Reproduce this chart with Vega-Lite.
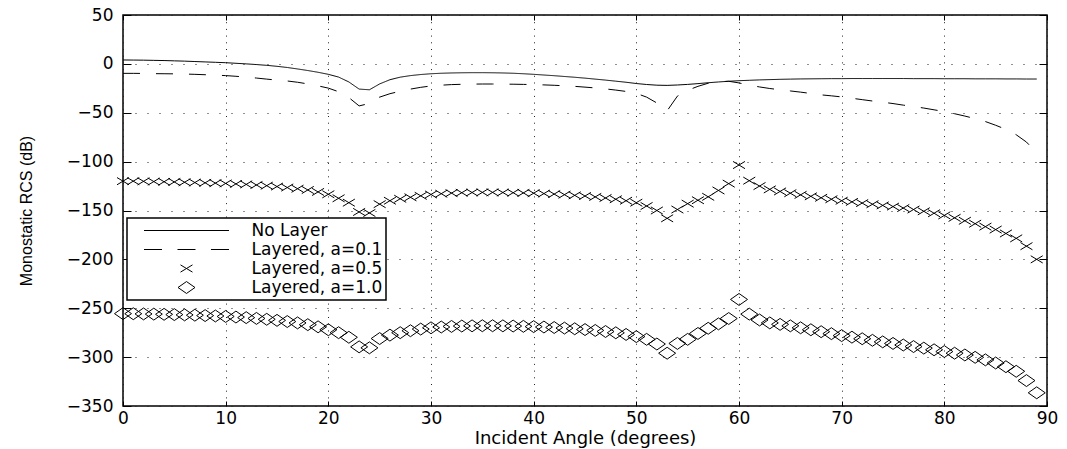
{
"$schema": "https://vega.github.io/schema/vega-lite/v6.json",
"width": 924, "height": 391,
"autosize": "none",
"padding": {"left": 123, "top": 15, "right": 20, "bottom": 43},
"background": "white",
"config": {
  "view": {"stroke": "black", "strokeWidth": 1.5},
  "axis": {"labelFont": "DejaVu Sans", "labelFontSize": 17, "labelColor": "black", "titleFont": "DejaVu Sans", "titleColor": "black", "titleFontWeight": "normal", "domain": false, "tickColor": "black", "tickWidth": 1, "gridColor": "#222222", "gridOpacity": 1, "gridWidth": 1, "labelFlush": false},
  "legend": {"orient": "none", "legendX": 4, "legendY": 203, "strokeColor": "black", "strokeWidth": 1.5, "fillColor": "white", "padding": 3, "clipHeight": 19, "rowPadding": 0, "symbolOffset": 13.5, "labelOffset": 22, "labelFont": "DejaVu Sans", "labelFontSize": 17, "labelColor": "black", "symbolStrokeColor": "black", "symbolStrokeWidth": 1, "symbolFillColor": "transparent", "symbolSize": 7225, "symbolOpacity": 1, "labelLimit": 400}
},
"data": {"values": [
{"a":0,"s":"No Layer","v":4.0},{"a":1,"s":"No Layer","v":3.9},{"a":2,"s":"No Layer","v":3.8},{"a":3,"s":"No Layer","v":3.6},{"a":4,"s":"No Layer","v":3.4},{"a":5,"s":"No Layer","v":3.1},{"a":6,"s":"No Layer","v":2.8},{"a":7,"s":"No Layer","v":2.4},{"a":8,"s":"No Layer","v":2.0},{"a":9,"s":"No Layer","v":1.6},
{"a":10,"s":"No Layer","v":1.2},{"a":11,"s":"No Layer","v":0.6},{"a":12,"s":"No Layer","v":0.0},{"a":13,"s":"No Layer","v":-0.7},{"a":14,"s":"No Layer","v":-1.5},{"a":15,"s":"No Layer","v":-2.5},{"a":16,"s":"No Layer","v":-3.7},{"a":17,"s":"No Layer","v":-5.2},{"a":18,"s":"No Layer","v":-6.8},{"a":19,"s":"No Layer","v":-8.6},
{"a":20,"s":"No Layer","v":-10.7},{"a":21,"s":"No Layer","v":-13.5},{"a":22,"s":"No Layer","v":-18.5},{"a":23,"s":"No Layer","v":-25.8},{"a":24,"s":"No Layer","v":-26.5},{"a":25,"s":"No Layer","v":-20.5},{"a":26,"s":"No Layer","v":-16.2},{"a":27,"s":"No Layer","v":-13.6},{"a":28,"s":"No Layer","v":-12.0},{"a":29,"s":"No Layer","v":-10.9},
{"a":30,"s":"No Layer","v":-10.1},{"a":31,"s":"No Layer","v":-9.6},{"a":32,"s":"No Layer","v":-9.3},{"a":33,"s":"No Layer","v":-9.1},{"a":34,"s":"No Layer","v":-9.0},{"a":35,"s":"No Layer","v":-9.0},{"a":36,"s":"No Layer","v":-9.1},{"a":37,"s":"No Layer","v":-9.3},{"a":38,"s":"No Layer","v":-9.6},{"a":39,"s":"No Layer","v":-10.1},
{"a":40,"s":"No Layer","v":-10.7},{"a":41,"s":"No Layer","v":-11.4},{"a":42,"s":"No Layer","v":-12.1},{"a":43,"s":"No Layer","v":-12.9},{"a":44,"s":"No Layer","v":-13.7},{"a":45,"s":"No Layer","v":-14.6},{"a":46,"s":"No Layer","v":-15.6},{"a":47,"s":"No Layer","v":-16.6},{"a":48,"s":"No Layer","v":-17.7},{"a":49,"s":"No Layer","v":-18.8},
{"a":50,"s":"No Layer","v":-20.1},{"a":51,"s":"No Layer","v":-21.1},{"a":52,"s":"No Layer","v":-21.8},{"a":53,"s":"No Layer","v":-22.0},{"a":54,"s":"No Layer","v":-21.6},{"a":55,"s":"No Layer","v":-21.0},{"a":56,"s":"No Layer","v":-20.2},{"a":57,"s":"No Layer","v":-19.3},{"a":58,"s":"No Layer","v":-18.5},{"a":59,"s":"No Layer","v":-17.8},
{"a":60,"s":"No Layer","v":-17.2},{"a":61,"s":"No Layer","v":-16.8},{"a":62,"s":"No Layer","v":-16.4},{"a":63,"s":"No Layer","v":-16.1},{"a":64,"s":"No Layer","v":-15.8},{"a":65,"s":"No Layer","v":-15.6},{"a":66,"s":"No Layer","v":-15.4},{"a":67,"s":"No Layer","v":-15.3},{"a":68,"s":"No Layer","v":-15.2},{"a":69,"s":"No Layer","v":-15.1},
{"a":70,"s":"No Layer","v":-15.1},{"a":71,"s":"No Layer","v":-15.0},{"a":72,"s":"No Layer","v":-15.0},{"a":73,"s":"No Layer","v":-15.0},{"a":74,"s":"No Layer","v":-15.0},{"a":75,"s":"No Layer","v":-15.0},{"a":76,"s":"No Layer","v":-15.0},{"a":77,"s":"No Layer","v":-15.1},{"a":78,"s":"No Layer","v":-15.1},{"a":79,"s":"No Layer","v":-15.1},
{"a":80,"s":"No Layer","v":-15.2},{"a":81,"s":"No Layer","v":-15.2},{"a":82,"s":"No Layer","v":-15.2},{"a":83,"s":"No Layer","v":-15.3},{"a":84,"s":"No Layer","v":-15.3},{"a":85,"s":"No Layer","v":-15.3},{"a":86,"s":"No Layer","v":-15.4},{"a":87,"s":"No Layer","v":-15.4},{"a":88,"s":"No Layer","v":-15.5},{"a":89,"s":"No Layer","v":-15.5},
{"a":0,"s":"Layered, a=0.1","v":-9.7},{"a":1,"s":"Layered, a=0.1","v":-9.7},{"a":2,"s":"Layered, a=0.1","v":-9.8},{"a":3,"s":"Layered, a=0.1","v":-10.0},{"a":4,"s":"Layered, a=0.1","v":-10.1},{"a":5,"s":"Layered, a=0.1","v":-10.2},{"a":6,"s":"Layered, a=0.1","v":-10.4},{"a":7,"s":"Layered, a=0.1","v":-10.7},{"a":8,"s":"Layered, a=0.1","v":-11.1},{"a":9,"s":"Layered, a=0.1","v":-11.5},
{"a":10,"s":"Layered, a=0.1","v":-12.0},{"a":11,"s":"Layered, a=0.1","v":-12.7},{"a":12,"s":"Layered, a=0.1","v":-13.5},{"a":13,"s":"Layered, a=0.1","v":-14.5},{"a":14,"s":"Layered, a=0.1","v":-15.6},{"a":15,"s":"Layered, a=0.1","v":-16.6},{"a":16,"s":"Layered, a=0.1","v":-17.5},{"a":17,"s":"Layered, a=0.1","v":-18.8},{"a":18,"s":"Layered, a=0.1","v":-20.5},{"a":19,"s":"Layered, a=0.1","v":-22.5},
{"a":20,"s":"Layered, a=0.1","v":-24.8},{"a":21,"s":"Layered, a=0.1","v":-28.5},{"a":22,"s":"Layered, a=0.1","v":-34.5},{"a":23,"s":"Layered, a=0.1","v":-43.0},{"a":24,"s":"Layered, a=0.1","v":-40.5},{"a":25,"s":"Layered, a=0.1","v":-34.0},{"a":26,"s":"Layered, a=0.1","v":-30.5},{"a":27,"s":"Layered, a=0.1","v":-28.0},{"a":28,"s":"Layered, a=0.1","v":-25.8},{"a":29,"s":"Layered, a=0.1","v":-24.0},
{"a":30,"s":"Layered, a=0.1","v":-22.6},{"a":31,"s":"Layered, a=0.1","v":-21.8},{"a":32,"s":"Layered, a=0.1","v":-21.2},{"a":33,"s":"Layered, a=0.1","v":-20.9},{"a":34,"s":"Layered, a=0.1","v":-20.7},{"a":35,"s":"Layered, a=0.1","v":-20.6},{"a":36,"s":"Layered, a=0.1","v":-20.6},{"a":37,"s":"Layered, a=0.1","v":-20.7},{"a":38,"s":"Layered, a=0.1","v":-20.8},{"a":39,"s":"Layered, a=0.1","v":-21.0},
{"a":40,"s":"Layered, a=0.1","v":-21.2},{"a":41,"s":"Layered, a=0.1","v":-21.5},{"a":42,"s":"Layered, a=0.1","v":-21.9},{"a":43,"s":"Layered, a=0.1","v":-22.4},{"a":44,"s":"Layered, a=0.1","v":-23.0},{"a":45,"s":"Layered, a=0.1","v":-23.8},{"a":46,"s":"Layered, a=0.1","v":-24.6},{"a":47,"s":"Layered, a=0.1","v":-25.6},{"a":48,"s":"Layered, a=0.1","v":-26.8},{"a":49,"s":"Layered, a=0.1","v":-28.2},
{"a":50,"s":"Layered, a=0.1","v":-30.2},{"a":51,"s":"Layered, a=0.1","v":-34.0},{"a":52,"s":"Layered, a=0.1","v":-40.0},{"a":53,"s":"Layered, a=0.1","v":-48.0},{"a":54,"s":"Layered, a=0.1","v":-33.0},{"a":55,"s":"Layered, a=0.1","v":-27.0},{"a":56,"s":"Layered, a=0.1","v":-23.0},{"a":57,"s":"Layered, a=0.1","v":-19.8},{"a":58,"s":"Layered, a=0.1","v":-18.3},{"a":59,"s":"Layered, a=0.1","v":-17.8},
{"a":60,"s":"Layered, a=0.1","v":-19.5},{"a":61,"s":"Layered, a=0.1","v":-21.8},{"a":62,"s":"Layered, a=0.1","v":-23.6},{"a":63,"s":"Layered, a=0.1","v":-25.2},{"a":64,"s":"Layered, a=0.1","v":-26.5},{"a":65,"s":"Layered, a=0.1","v":-27.7},{"a":66,"s":"Layered, a=0.1","v":-28.9},{"a":67,"s":"Layered, a=0.1","v":-30.3},{"a":68,"s":"Layered, a=0.1","v":-31.7},{"a":69,"s":"Layered, a=0.1","v":-32.7},
{"a":70,"s":"Layered, a=0.1","v":-33.8},{"a":71,"s":"Layered, a=0.1","v":-35.2},{"a":72,"s":"Layered, a=0.1","v":-36.6},{"a":73,"s":"Layered, a=0.1","v":-38.0},{"a":74,"s":"Layered, a=0.1","v":-39.2},{"a":75,"s":"Layered, a=0.1","v":-40.6},{"a":76,"s":"Layered, a=0.1","v":-42.2},{"a":77,"s":"Layered, a=0.1","v":-43.6},{"a":78,"s":"Layered, a=0.1","v":-45.2},{"a":79,"s":"Layered, a=0.1","v":-47.0},
{"a":80,"s":"Layered, a=0.1","v":-48.8},{"a":81,"s":"Layered, a=0.1","v":-51.0},{"a":82,"s":"Layered, a=0.1","v":-53.4},{"a":83,"s":"Layered, a=0.1","v":-56.0},{"a":84,"s":"Layered, a=0.1","v":-59.0},{"a":85,"s":"Layered, a=0.1","v":-62.8},{"a":86,"s":"Layered, a=0.1","v":-67.0},{"a":87,"s":"Layered, a=0.1","v":-72.5},{"a":88,"s":"Layered, a=0.1","v":-80.0},{"a":89,"s":"Layered, a=0.1","v":-91.0},
{"a":0,"s":"Layered, a=0.5","v":-120.0},{"a":1,"s":"Layered, a=0.5","v":-120.0},{"a":2,"s":"Layered, a=0.5","v":-120.2},{"a":3,"s":"Layered, a=0.5","v":-120.4},{"a":4,"s":"Layered, a=0.5","v":-120.6},{"a":5,"s":"Layered, a=0.5","v":-120.8},{"a":6,"s":"Layered, a=0.5","v":-121.1},{"a":7,"s":"Layered, a=0.5","v":-121.4},{"a":8,"s":"Layered, a=0.5","v":-121.7},{"a":9,"s":"Layered, a=0.5","v":-122.0},
{"a":10,"s":"Layered, a=0.5","v":-122.3},{"a":11,"s":"Layered, a=0.5","v":-122.8},{"a":12,"s":"Layered, a=0.5","v":-123.3},{"a":13,"s":"Layered, a=0.5","v":-123.9},{"a":14,"s":"Layered, a=0.5","v":-124.6},{"a":15,"s":"Layered, a=0.5","v":-125.5},{"a":16,"s":"Layered, a=0.5","v":-126.5},{"a":17,"s":"Layered, a=0.5","v":-127.7},{"a":18,"s":"Layered, a=0.5","v":-129.0},{"a":19,"s":"Layered, a=0.5","v":-131.0},
{"a":20,"s":"Layered, a=0.5","v":-133.4},{"a":21,"s":"Layered, a=0.5","v":-137.5},{"a":22,"s":"Layered, a=0.5","v":-142.0},{"a":23,"s":"Layered, a=0.5","v":-151.5},{"a":24,"s":"Layered, a=0.5","v":-152.5},{"a":25,"s":"Layered, a=0.5","v":-143.5},{"a":26,"s":"Layered, a=0.5","v":-140.0},{"a":27,"s":"Layered, a=0.5","v":-138.0},{"a":28,"s":"Layered, a=0.5","v":-136.5},{"a":29,"s":"Layered, a=0.5","v":-135.0},
{"a":30,"s":"Layered, a=0.5","v":-133.6},{"a":31,"s":"Layered, a=0.5","v":-132.8},{"a":32,"s":"Layered, a=0.5","v":-132.2},{"a":33,"s":"Layered, a=0.5","v":-131.8},{"a":34,"s":"Layered, a=0.5","v":-131.6},{"a":35,"s":"Layered, a=0.5","v":-131.5},{"a":36,"s":"Layered, a=0.5","v":-131.5},{"a":37,"s":"Layered, a=0.5","v":-131.6},{"a":38,"s":"Layered, a=0.5","v":-131.8},{"a":39,"s":"Layered, a=0.5","v":-132.0},
{"a":40,"s":"Layered, a=0.5","v":-132.3},{"a":41,"s":"Layered, a=0.5","v":-132.7},{"a":42,"s":"Layered, a=0.5","v":-133.2},{"a":43,"s":"Layered, a=0.5","v":-133.8},{"a":44,"s":"Layered, a=0.5","v":-134.5},{"a":45,"s":"Layered, a=0.5","v":-135.2},{"a":46,"s":"Layered, a=0.5","v":-136.1},{"a":47,"s":"Layered, a=0.5","v":-137.2},{"a":48,"s":"Layered, a=0.5","v":-138.5},{"a":49,"s":"Layered, a=0.5","v":-140.0},
{"a":50,"s":"Layered, a=0.5","v":-142.0},{"a":51,"s":"Layered, a=0.5","v":-145.4},{"a":52,"s":"Layered, a=0.5","v":-150.0},{"a":53,"s":"Layered, a=0.5","v":-158.0},{"a":54,"s":"Layered, a=0.5","v":-149.0},{"a":55,"s":"Layered, a=0.5","v":-143.0},{"a":56,"s":"Layered, a=0.5","v":-139.5},{"a":57,"s":"Layered, a=0.5","v":-136.0},{"a":58,"s":"Layered, a=0.5","v":-129.5},{"a":59,"s":"Layered, a=0.5","v":-122.5},
{"a":60,"s":"Layered, a=0.5","v":-103.5},{"a":61,"s":"Layered, a=0.5","v":-119.5},{"a":62,"s":"Layered, a=0.5","v":-125.0},{"a":63,"s":"Layered, a=0.5","v":-128.4},{"a":64,"s":"Layered, a=0.5","v":-130.5},{"a":65,"s":"Layered, a=0.5","v":-132.3},{"a":66,"s":"Layered, a=0.5","v":-134.0},{"a":67,"s":"Layered, a=0.5","v":-135.5},{"a":68,"s":"Layered, a=0.5","v":-137.0},{"a":69,"s":"Layered, a=0.5","v":-138.5},
{"a":70,"s":"Layered, a=0.5","v":-140.0},{"a":71,"s":"Layered, a=0.5","v":-141.2},{"a":72,"s":"Layered, a=0.5","v":-142.4},{"a":73,"s":"Layered, a=0.5","v":-143.6},{"a":74,"s":"Layered, a=0.5","v":-144.8},{"a":75,"s":"Layered, a=0.5","v":-146.0},{"a":76,"s":"Layered, a=0.5","v":-147.5},{"a":77,"s":"Layered, a=0.5","v":-149.0},{"a":78,"s":"Layered, a=0.5","v":-150.8},{"a":79,"s":"Layered, a=0.5","v":-152.8},
{"a":80,"s":"Layered, a=0.5","v":-155.0},{"a":81,"s":"Layered, a=0.5","v":-157.5},{"a":82,"s":"Layered, a=0.5","v":-160.5},{"a":83,"s":"Layered, a=0.5","v":-163.5},{"a":84,"s":"Layered, a=0.5","v":-166.5},{"a":85,"s":"Layered, a=0.5","v":-169.5},{"a":86,"s":"Layered, a=0.5","v":-173.5},{"a":87,"s":"Layered, a=0.5","v":-178.5},{"a":88,"s":"Layered, a=0.5","v":-186.5},{"a":89,"s":"Layered, a=0.5","v":-200.0},
{"a":0,"s":"Layered, a=1.0","v":-255.5},{"a":1,"s":"Layered, a=1.0","v":-255.6},{"a":2,"s":"Layered, a=1.0","v":-255.8},{"a":3,"s":"Layered, a=1.0","v":-256.0},{"a":4,"s":"Layered, a=1.0","v":-256.2},{"a":5,"s":"Layered, a=1.0","v":-256.5},{"a":6,"s":"Layered, a=1.0","v":-256.8},{"a":7,"s":"Layered, a=1.0","v":-257.1},{"a":8,"s":"Layered, a=1.0","v":-257.5},{"a":9,"s":"Layered, a=1.0","v":-257.9},
{"a":10,"s":"Layered, a=1.0","v":-258.4},{"a":11,"s":"Layered, a=1.0","v":-259.0},{"a":12,"s":"Layered, a=1.0","v":-259.6},{"a":13,"s":"Layered, a=1.0","v":-260.4},{"a":14,"s":"Layered, a=1.0","v":-261.3},{"a":15,"s":"Layered, a=1.0","v":-262.4},{"a":16,"s":"Layered, a=1.0","v":-263.6},{"a":17,"s":"Layered, a=1.0","v":-265.0},{"a":18,"s":"Layered, a=1.0","v":-266.8},{"a":19,"s":"Layered, a=1.0","v":-269.0},
{"a":20,"s":"Layered, a=1.0","v":-272.0},{"a":21,"s":"Layered, a=1.0","v":-275.0},{"a":22,"s":"Layered, a=1.0","v":-279.7},{"a":23,"s":"Layered, a=1.0","v":-289.5},{"a":24,"s":"Layered, a=1.0","v":-290.5},{"a":25,"s":"Layered, a=1.0","v":-281.0},{"a":26,"s":"Layered, a=1.0","v":-277.5},{"a":27,"s":"Layered, a=1.0","v":-275.0},{"a":28,"s":"Layered, a=1.0","v":-273.0},{"a":29,"s":"Layered, a=1.0","v":-271.3},
{"a":30,"s":"Layered, a=1.0","v":-270.0},{"a":31,"s":"Layered, a=1.0","v":-269.2},{"a":32,"s":"Layered, a=1.0","v":-268.6},{"a":33,"s":"Layered, a=1.0","v":-268.2},{"a":34,"s":"Layered, a=1.0","v":-268.0},{"a":35,"s":"Layered, a=1.0","v":-267.9},{"a":36,"s":"Layered, a=1.0","v":-267.9},{"a":37,"s":"Layered, a=1.0","v":-268.0},{"a":38,"s":"Layered, a=1.0","v":-268.2},{"a":39,"s":"Layered, a=1.0","v":-268.5},
{"a":40,"s":"Layered, a=1.0","v":-268.8},{"a":41,"s":"Layered, a=1.0","v":-269.2},{"a":42,"s":"Layered, a=1.0","v":-269.7},{"a":43,"s":"Layered, a=1.0","v":-270.3},{"a":44,"s":"Layered, a=1.0","v":-271.0},{"a":45,"s":"Layered, a=1.0","v":-271.8},{"a":46,"s":"Layered, a=1.0","v":-272.7},{"a":47,"s":"Layered, a=1.0","v":-273.8},{"a":48,"s":"Layered, a=1.0","v":-275.1},{"a":49,"s":"Layered, a=1.0","v":-276.8},
{"a":50,"s":"Layered, a=1.0","v":-279.0},{"a":51,"s":"Layered, a=1.0","v":-281.8},{"a":52,"s":"Layered, a=1.0","v":-286.6},{"a":53,"s":"Layered, a=1.0","v":-296.0},{"a":54,"s":"Layered, a=1.0","v":-286.0},{"a":55,"s":"Layered, a=1.0","v":-281.8},{"a":56,"s":"Layered, a=1.0","v":-275.8},{"a":57,"s":"Layered, a=1.0","v":-270.5},{"a":58,"s":"Layered, a=1.0","v":-266.0},{"a":59,"s":"Layered, a=1.0","v":-260.5},
{"a":60,"s":"Layered, a=1.0","v":-241.0},{"a":61,"s":"Layered, a=1.0","v":-256.0},{"a":62,"s":"Layered, a=1.0","v":-262.0},{"a":63,"s":"Layered, a=1.0","v":-265.0},{"a":64,"s":"Layered, a=1.0","v":-266.5},{"a":65,"s":"Layered, a=1.0","v":-268.0},{"a":66,"s":"Layered, a=1.0","v":-270.0},{"a":67,"s":"Layered, a=1.0","v":-272.0},{"a":68,"s":"Layered, a=1.0","v":-274.0},{"a":69,"s":"Layered, a=1.0","v":-276.0},
{"a":70,"s":"Layered, a=1.0","v":-278.0},{"a":71,"s":"Layered, a=1.0","v":-279.6},{"a":72,"s":"Layered, a=1.0","v":-281.2},{"a":73,"s":"Layered, a=1.0","v":-282.8},{"a":74,"s":"Layered, a=1.0","v":-284.4},{"a":75,"s":"Layered, a=1.0","v":-286.0},{"a":76,"s":"Layered, a=1.0","v":-287.6},{"a":77,"s":"Layered, a=1.0","v":-289.2},{"a":78,"s":"Layered, a=1.0","v":-290.8},{"a":79,"s":"Layered, a=1.0","v":-292.5},
{"a":80,"s":"Layered, a=1.0","v":-294.3},{"a":81,"s":"Layered, a=1.0","v":-296.0},{"a":82,"s":"Layered, a=1.0","v":-297.8},{"a":83,"s":"Layered, a=1.0","v":-300.2},{"a":84,"s":"Layered, a=1.0","v":-302.8},{"a":85,"s":"Layered, a=1.0","v":-306.0},{"a":86,"s":"Layered, a=1.0","v":-309.8},{"a":87,"s":"Layered, a=1.0","v":-314.5},{"a":88,"s":"Layered, a=1.0","v":-324.0},{"a":89,"s":"Layered, a=1.0","v":-336.5}
]},
"layer": [
  {
    "transform": [{"filter": {"field": "s", "oneOf": ["No Layer", "Layered, a=0.1"]}}],
    "mark": {"type": "line", "color": "black", "strokeWidth": 1},
    "encoding": {
      "x": {"field": "a", "type": "quantitative", "scale": {"domain": [0, 90], "nice": false, "zero": false},
            "axis": {"orient": "bottom", "values": [0,10,20,30,40,50,60,70,80,90], "title": "Incident Angle (degrees)", "titleFontSize": 18, "titlePadding": 3, "grid": true, "gridDash": [1, 5.7], "tickSize": -5, "labelPadding": 9}},
      "y": {"field": "v", "type": "quantitative", "scale": {"domain": [-350, 50], "nice": false, "zero": false},
            "axis": {"orient": "left", "values": [-350,-300,-250,-200,-150,-100,-50,0,50], "title": "Monostatic RCS (dB)", "titleFont": "Liberation Sans", "titleFontSize": 16, "titlePadding": 32, "grid": true, "gridDash": [1, 11], "tickSize": -8, "labelPadding": 18}},
      "strokeDash": {"field": "s", "type": "nominal", "scale": {"domain": ["No Layer", "Layered, a=0.1"], "range": [[1, 0], [17, 16]]}, "legend": null}
    }
  },
  {
    "transform": [{"filter": {"field": "s", "oneOf": ["Layered, a=0.5", "Layered, a=1.0"]}}],
    "mark": {"type": "point", "filled": false, "stroke": "black", "strokeWidth": 1, "opacity": 1, "size": 7225},
    "encoding": {
      "x": {"field": "a", "type": "quantitative",
            "axis": {"orient": "top", "values": [0,10,20,30,40,50,60,70,80,90], "labels": false, "title": null, "grid": false, "tickSize": -5}},
      "y": {"field": "v", "type": "quantitative",
            "axis": {"orient": "right", "values": [-350,-300,-250,-200,-150,-100,-50,0,50], "labels": false, "title": null, "grid": false, "tickSize": -8}},
      "shape": {"field": "s", "type": "nominal",
                "scale": {"domain": ["No Layer", "Layered, a=0.1", "Layered, a=0.5", "Layered, a=1.0"],
                          "range": ["M-1,0H1", "M-1,0H-0.576M-0.212,0H0.212M0.576,0H1", "M-0.141,-0.085L0.141,0.085M-0.141,0.085L0.141,-0.085", "M-0.2,0L0,-0.14L0.2,0L0,0.14Z"]},
                "legend": {"title": null}}
    }
  }
],
"resolve": {"axis": {"x": "independent", "y": "independent"}}
}
